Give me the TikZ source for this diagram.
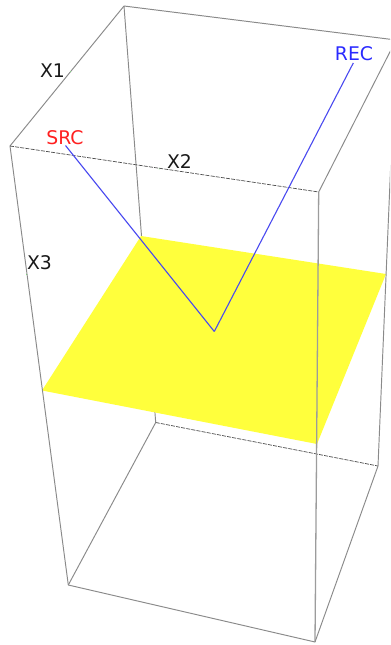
\documentclass[tikz,border=0pt]{standalone}
\usepackage{fontspec}
\setmainfont{DejaVu Sans}
\definecolor{edgegray}{HTML}{8A8A8A}
\definecolor{planeyellow}{HTML}{FFFF3C}
\definecolor{raycolor}{HTML}{4A4AF0}
\definecolor{reclabel}{HTML}{2A2AFF}
\definecolor{srclabel}{HTML}{FF2020}
\definecolor{tickgreen}{HTML}{7FD07F}
\tikzset{
  boxedge/.style={draw=edgegray,line width=0.95bp},
  frontedge/.style={draw=edgegray!85,line width=1.3bp},
  backedge/.style={draw=black!70,line width=0.7bp,dash pattern=on 4bp off 1.2bp},
  rayline/.style={draw=raycolor,line width=1.1bp},
  plane/.style={fill=planeyellow,draw=none},
  axislabel/.style={font=\fontsize{18.8bp}{20bp}\selectfont,text=black!90,inner sep=0pt},
  tick/.style={draw=tickgreen,line width=0.6bp}
}
\begin{document}
\begin{tikzpicture}[x=1bp,y=-1bp]
\useasboundingbox (0,0) rectangle (390,645);
\fill[white] (0,0) rectangle (390,645);
\clip (0,0) rectangle (390,645);
% box corners
\coordinate (A) at (124,6);
\coordinate (B) at (10,146);
\coordinate (C) at (318.7,192);
\coordinate (D) at (396,40);
\coordinate (E) at (155.7,422.5);
\coordinate (F) at (68.3,585);
\coordinate (G) at (315,642);
\coordinate (H) at (378,466);
% plane corners
\coordinate (P1) at (141,236);
\coordinate (P2) at (386,274);
\coordinate (P3) at (317,444);
\coordinate (P4) at (42,390.5);
% ray points
\coordinate (S) at (65.5,145.5);
\coordinate (M) at (214.3,331.5);
\coordinate (R) at (353.3,63);
% hidden edges, below the plane
\draw[boxedge] (A) -- (E);
\draw[boxedge] (E) -- (F);
\draw[backedge] (E) -- (H);
% plane
\fill[plane] (P1) -- (P2) -- (P3) -- (P4) -- cycle;
% other edges
\draw[boxedge] (A) -- (B);
\draw[boxedge] (B) -- (F);
\draw[boxedge] (F) -- (G);
\draw[frontedge] (G) -- (C);
\draw[boxedge] (G) -- (H);
\draw[boxedge] (H) -- (D);
\draw[boxedge] (C) -- (D);
\draw[boxedge] (A) -- (D);
\draw[backedge] (B) -- (C);
% rays
\draw[rayline] (S) -- (M);
\draw[rayline] (M) -- (R);
% axis ticks
\coordinate (T1) at (70,71.5);
\coordinate (T1b) at (71,71.5);
\coordinate (T2) at (158.5,168.8);
\coordinate (T2b) at (159.5,169);
\coordinate (T3) at (26.5,274);
\coordinate (T3b) at (26.5,275);
\draw[tick] (T1) -- (T1b);
\draw[tick] (T2) -- (T2b);
\draw[tick] (T3) -- (T3b);
% labels
\node[axislabel] (X1) at (52.5,71) {X1};
\node[axislabel] (X2) at (179.5,162) {X2};
\node[axislabel] (X3) at (39.5,262.5) {X3};
\node[axislabel,text=srclabel] (SRC) at (65,138) {SRC};
\node[axislabel,text=reclabel] (REC) at (354,54) {REC};
\end{tikzpicture}
\end{document}
